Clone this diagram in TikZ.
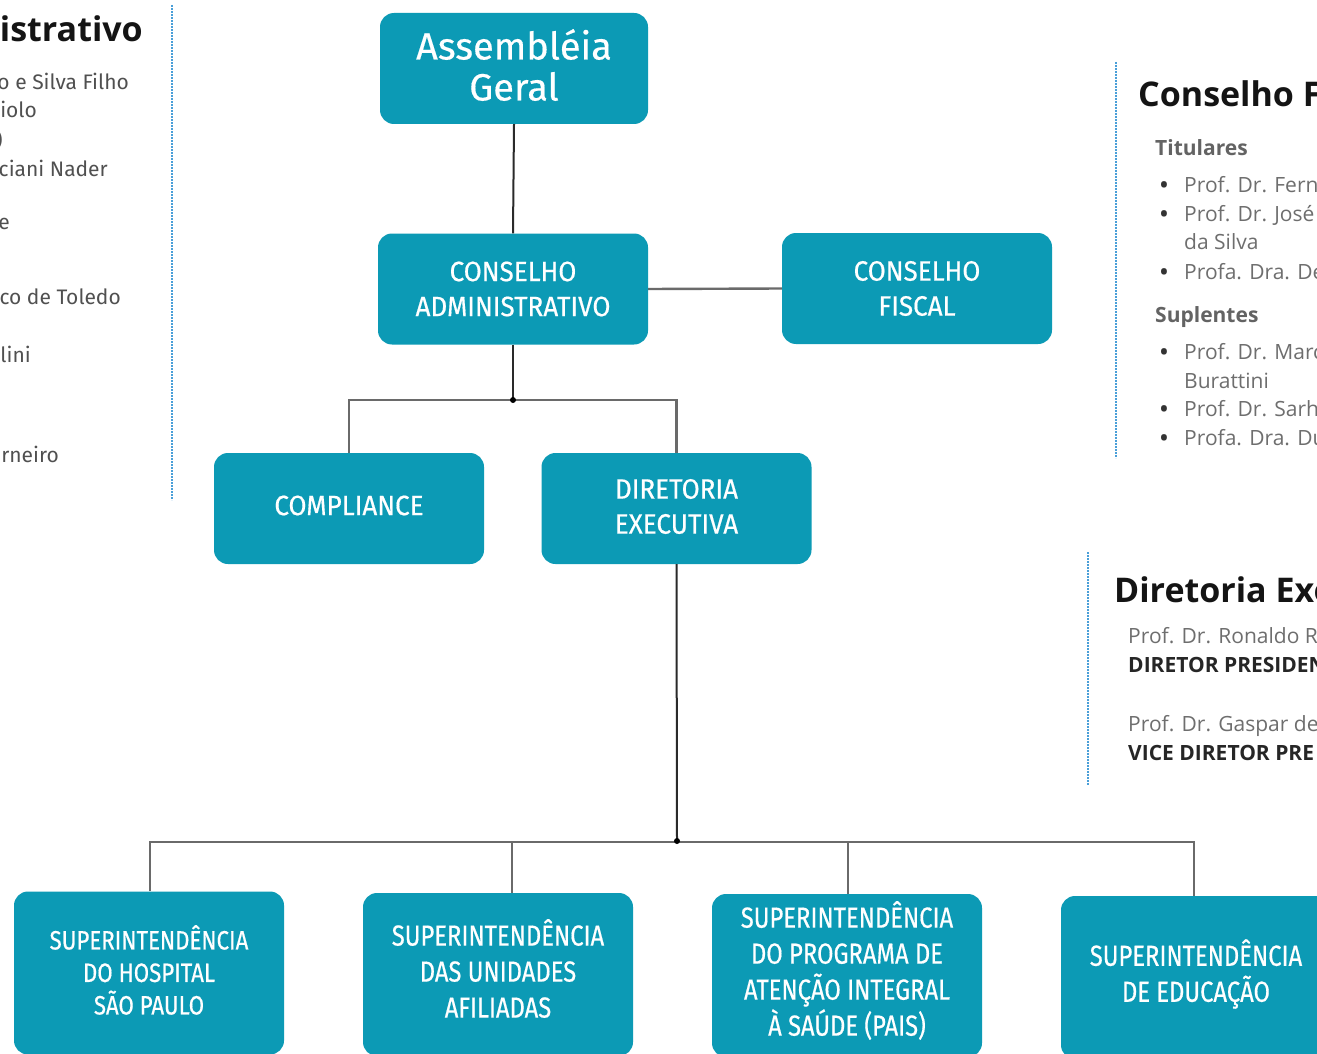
\documentclass[tikz,border=0pt]{standalone}
\usepackage{fontspec}
\setmainfont{Fira Sans}
\newfontfamily\topfont[FakeBold=0.4]{Fira Sans}
\newfontfamily\midfont[FakeStretch=0.93,FakeBold=0.5]{Fira Sans}
\newfontfamily\botfont[FakeStretch=0.82,FakeBold=0.5]{Fira Sans}
\newfontfamily\botfontb[FakeStretch=0.84,FakeBold=0.5]{Fira Sans}
\newfontfamily\bodyfont{Open Sans}
\definecolor{boxc}{HTML}{0C9AB5}
\definecolor{dotc}{HTML}{4A9FD8}
\definecolor{bodyg}{HTML}{6E6E6E}
\definecolor{lbodyg}{HTML}{505050}
\definecolor{linek}{HTML}{2A2A2A}
\definecolor{lineg}{HTML}{6A6A6A}
\tikzset{
  orgbox/.style={fill=boxc, draw=none, rounded corners=14pt, inner sep=0pt},
  topbox/.style={orgbox, minimum width=268pt, minimum height=111pt},
  midbox/.style={orgbox, minimum width=270pt, minimum height=111pt},
  botbox/.style={orgbox, minimum width=270pt, minimum height=163pt},
  boxtxt/.style={text=white, align=center, inner sep=0pt},
  toptxt/.style={boxtxt, font=\topfont\fontsize{38}{41}\selectfont},
  midtxt/.style={boxtxt, font=\midfont\fontsize{28}{35}\selectfont},
  bottxt/.style={boxtxt, font=\botfont\fontsize{29}{36}\selectfont},
  darkline/.style={draw=linek, line width=2pt},
  grayline/.style={draw=lineg, line width=2.4pt},
  dotline/.style={draw=dotc, line width=2.6pt, dash pattern=on 1.6pt off 1.4pt},
  headtxt/.style={inner sep=0pt, text=black!92, font=\bodyfont\bfseries\fontsize{34}{40}\selectfont},
  rbody/.style={inner sep=0pt, text=bodyg, font=\bodyfont\fontsize{21}{29}\selectfont},
  rbul/.style={inner sep=0pt, text=black!80, font=\bodyfont\bfseries\fontsize{21}{29}\selectfont},
  rsub/.style={inner sep=0pt, text=bodyg!90!black, font=\bodyfont\bfseries\fontsize{21}{29}\selectfont},
  rbold/.style={inner sep=0pt, text=black!85, font=\bodyfont\bfseries\fontsize{21}{29}\selectfont},
  lbody/.style={inner sep=0pt, text=lbodyg, font=\fontsize{21}{28}\selectfont},
  jdot/.style={circle, fill=black, inner sep=0pt, minimum size=6pt},
}
\begin{document}
\begin{tikzpicture}[x=1pt,y=-1pt]
\useasboundingbox (0,0) rectangle (1317,1054);
\clip (0,0) rectangle (1317,1054);
\fill[white] (0,0) rectangle (1317,1054);

% ---------- boxes ----------
\node[topbox] (ag) at (514,68.5) {};
\node[midbox] (ca) at (513,289) {};
\node[midbox] (cf) at (917,288.5) {};
\node[midbox] (comp) at (349,508.5) {};
\node[midbox] (de) at (676.5,508.5) {};
\node[botbox] (s1) at (149,973) {};
\node[botbox] (s2) at (498,974.5) {};
\node[botbox] (s3) at (847,975.5) {};
\node[botbox] (s4) at (1196,977.5) {};

% ---------- box texts ----------
\node[toptxt] (agt) at (514,65) {Assembléia\\Geral};
\node[midtxt] (cat) at (513,289) {CONSELHO\\ADMINISTRATIVO};
\node[midtxt] (cft) at (917,288.5) {CONSELHO\\FISCAL};
\node[midtxt] (compt) at (349,505.5) {COMPLIANCE};
\node[midtxt] (det) at (676.5,506.5) {DIRETORIA\\EXECUTIVA};
\node[bottxt, font=\botfontb\fontsize{26.5}{32.5}\selectfont] (s1t) at (149,970) {SUPERINTENDÊNCIA\\DO HOSPITAL\\SÃO PAULO};
\node[bottxt] (s2t) at (498,968.5) {SUPERINTENDÊNCIA\\DAS UNIDADES\\AFILIADAS};
\node[bottxt] (s3t) at (847,970.5) {SUPERINTENDÊNCIA\\DO PROGRAMA DE\\ATENÇÃO INTEGRAL\\À SAÚDE (PAIS)};
\node[bottxt] (s4t) at (1196,974) {SUPERINTENDÊNCIA\\DE EDUCAÇÃO};

% ---------- junctions ----------
\coordinate (j1) at (513,400);
\coordinate (j2) at (677,841);
\coordinate (d1) at (150,842);
\coordinate (d2) at (512,842);
\coordinate (d3) at (848,842);
\coordinate (d4) at (1194,842);

% ---------- connectors ----------
\draw[darkline] (ag.south) -- (ca.north);
\draw[grayline] (ca.east) -- (cf.west);
\draw[darkline] (ca.south) -- (j1);
\draw[grayline] (comp.north) |- (j1) -| (de.north);
\draw[darkline] (de.south) -- (j2);
\draw[grayline] (s1.north -| d1) -- (d1) -- (d4) -- (s4.north -| d4);
\draw[grayline] (d2) -- (s2.north -| d2);
\draw[grayline] (d3) -- (s3.north -| d3);
\node[jdot] (j1dot) at (j1) {};
\node[jdot] (j2dot) at (j2) {};

% ---------- dotted separators ----------
\draw[dotline] (172,5) -- (172,500);
\draw[dotline] (1116,62) -- (1116,458);
\draw[dotline] (1088,552) -- (1088,785);

% ---------- left text (cropped by the frame) ----------
\node[headtxt, anchor=base east] (lh) at (143,42) {istrativo};
\node[lbody, anchor=base east] (l1) at (129,90) {o e Silva Filho};
\node[lbody, anchor=base east] (l2) at (37,118) {iolo};
\node[lbody, anchor=base east] (l3) at (3,147) {)};
\node[lbody, anchor=base east] (l4) at (108,176) {ciani Nader};
\node[lbody, anchor=base east] (l5) at (10,229) {e};
\node[lbody, anchor=base east] (l6) at (121,304) {co de Toledo};
\node[lbody, anchor=base east] (l7) at (31,362) {lini};
\node[lbody, anchor=base east] (l8) at (59,462) {rneiro};

% ---------- Conselho Fiscal text (cropped by the frame) ----------
\node[headtxt, anchor=base west] (fh) at (1138,107) {Conselho F};
\node[rsub, anchor=base west] (ft) at (1155,155) {Titulares};
\node[rbul, anchor=base west] (fb1) at (1160,192) {•};
\node[rbody, anchor=base west] (f1) at (1184,192) {Prof. Dr. Fern};
\node[rbul, anchor=base west] (fb2) at (1160,221) {•};
\node[rbody, anchor=base west] (f2) at (1184,221) {Prof. Dr. José};
\node[rbody, anchor=base west] (f2b) at (1184,249) {da Silva};
\node[rbul, anchor=base west] (fb3) at (1160,279) {•};
\node[rbody, anchor=base west] (f3) at (1184,279) {Profa. Dra. De};
\node[rsub, anchor=base west] (fs) at (1155,322) {Suplentes};
\node[rbul, anchor=base west] (fb4) at (1160,359) {•};
\node[rbody, anchor=base west] (f4) at (1184,359) {Prof. Dr. Marc};
\node[rbody, anchor=base west] (f4b) at (1184,388) {Burattini};
\node[rbul, anchor=base west] (fb5) at (1160,416) {•};
\node[rbody, anchor=base west] (f5) at (1184,416) {Prof. Dr. Sarh};
\node[rbul, anchor=base west] (fb6) at (1160,445) {•};
\node[rbody, anchor=base west] (f6) at (1184,445) {Profa. Dra. Du};

% ---------- Diretoria Executiva text (cropped by the frame) ----------
\node[headtxt, anchor=base west] (dh) at (1114,602) {Diretoria Exe};
\node[rbody, anchor=base west] (e1) at (1128,643) {Prof. Dr. Ronaldo R};
\node[rbold, anchor=base west] (e1b) at (1128,672) {DIRETOR PRESIDEN};
\node[rbody, anchor=base west] (e2) at (1128,731) {Prof. Dr. Gaspar de};
\node[rbold, anchor=base west] (e2b) at (1128,760) {VICE DIRETOR PRE};
\end{tikzpicture}
\end{document}
